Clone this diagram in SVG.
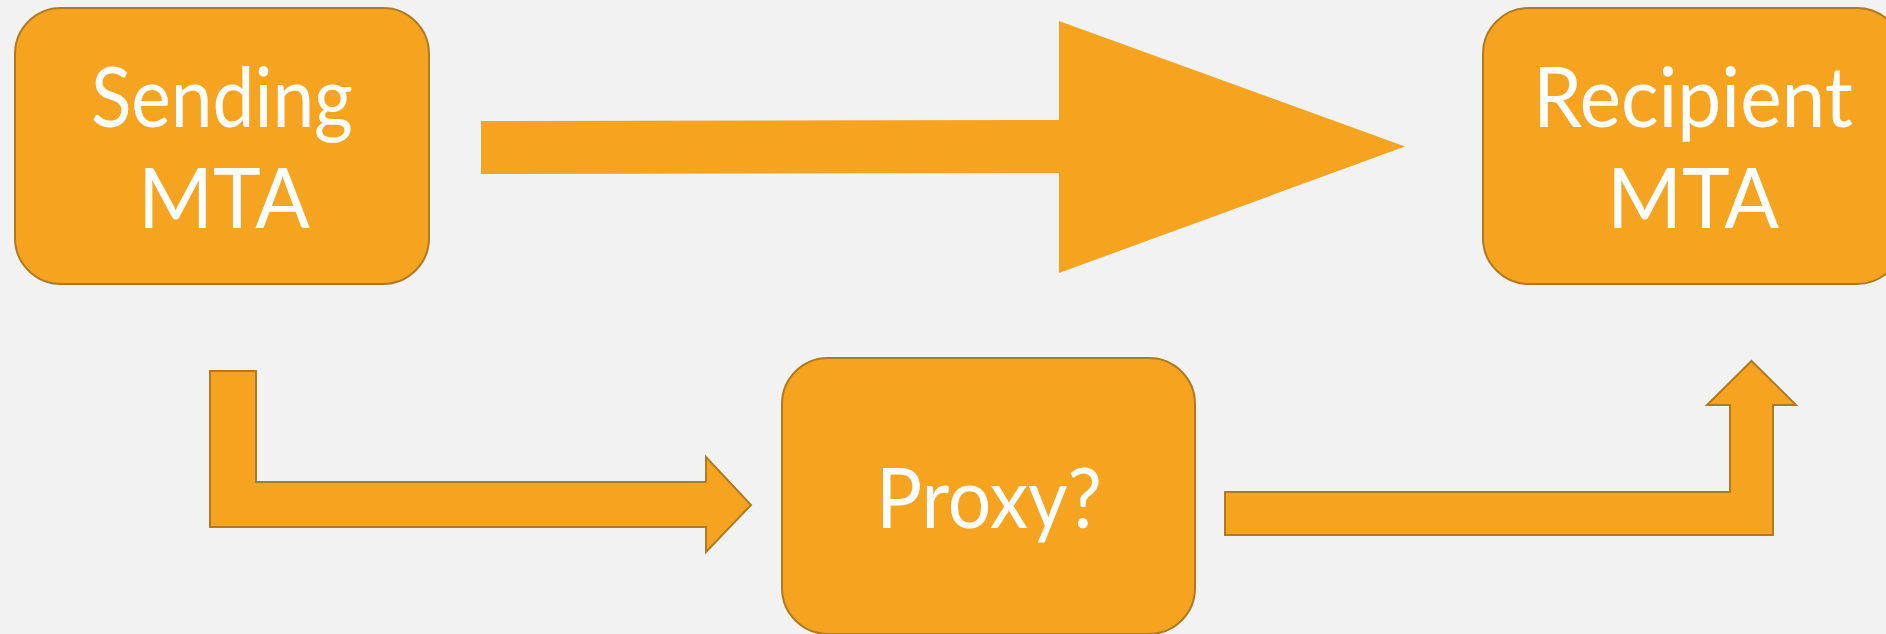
<svg xmlns="http://www.w3.org/2000/svg" width="1886" height="634" viewBox="0 0 1886 634">
  <style>
    .box { fill: #F6A41F; stroke: #B07A22; stroke-width: 2; }
    .arrow { fill: #F6A41F; stroke: #B07A22; stroke-width: 2; stroke-linejoin: miter; }
    .big { fill: #F6A41F; stroke: none; }
    .lbl { font-family: Lato, "Open Sans", "Liberation Sans", sans-serif; font-size: 84px; fill: #FFFFFF; text-anchor: middle; }
  </style>
  <rect x="0" y="0" width="1886" height="634" fill="#F2F2F2"/>

  <g id="connectors">
    <polygon class="big" points="481,121 1059,120 1059,21 1405,146.5 1059,273 1059,173 481,174"/>
    <polygon class="arrow" points="210,371 256,371 256,482 706,482 706,457 751,505 706,552 706,527 210,527"/>
    <polygon class="arrow" points="1225,492 1730,492 1730,405 1707,405 1751.5,361 1796,405 1773,405 1773,535 1225,535"/>
  </g>

  <g id="node-sending">
    <rect class="box" x="15" y="8" width="414" height="276" rx="46" ry="46"/>
    <text class="lbl" x="222" y="127" textLength="262" lengthAdjust="spacingAndGlyphs">Sending</text>
    <text class="lbl" x="224" y="228" textLength="172" lengthAdjust="spacingAndGlyphs">MTA</text>
  </g>

  <g id="node-recipient">
    <rect class="box" x="1483" y="8" width="420" height="276" rx="46" ry="46"/>
    <text class="lbl" x="1693" y="127" textLength="320" lengthAdjust="spacingAndGlyphs">Recipient</text>
    <text class="lbl" x="1693" y="228" textLength="172" lengthAdjust="spacingAndGlyphs">MTA</text>
  </g>

  <g id="node-proxy">
    <rect class="box" x="782" y="358" width="413" height="276" rx="46" ry="46"/>
    <text class="lbl" x="989" y="528" textLength="226" lengthAdjust="spacingAndGlyphs">Proxy?</text>
  </g>
</svg>
